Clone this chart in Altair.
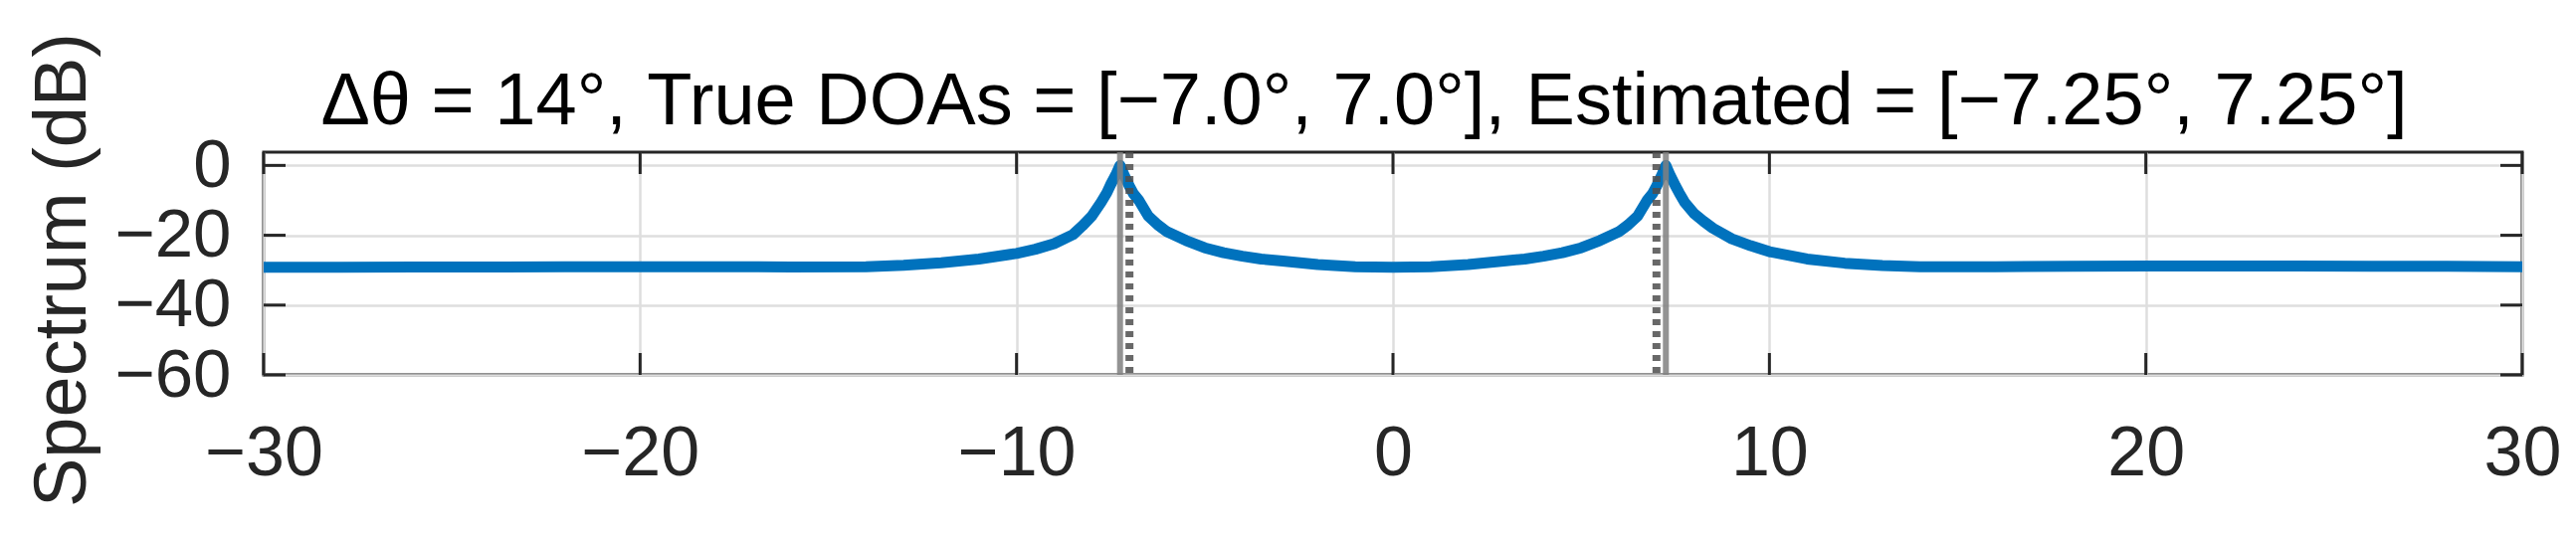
import altair as alt
import pandas as pd

# ---- data ----
angle_deg = [-30, -28, -26, -24, -22, -20, -18, -16, -14, -13, -12, -11, -10, -9.5, -9, -8.5,
             -8.25, -8, -7.75, -7.6, -7.5, -7.35, -7.25, -7.15, -7.0, -6.9, -6.75, -6.5, -6.25,
             -6.0, -5.5, -5.0, -4.5, -4.0, -3.5, -3.0, -2.0, -1.0, 0,
             1, 2, 3, 3.5, 4, 4.5, 5, 5.5, 6, 6.25, 6.5, 6.75, 6.9, 7.0, 7.15, 7.25, 7.35, 7.5,
             7.6, 7.75, 8, 8.25, 8.5, 9, 9.5, 10, 11, 12, 13, 14, 16, 18, 20, 22, 24, 26, 28, 30]
spectrum_db = [-29.2, -29.2, -29.1, -29.1, -29.0, -29.0, -29.0, -29.1, -29.0, -28.6, -27.9,
               -26.8, -25.2, -24.0, -22.4, -19.8, -17.3, -14.5, -10.5, -7.8, -5.5, -2.4, 0.0,
               -2.6, -6.0, -8.0, -10.0, -14.5, -17.0, -19.0, -21.5, -23.6, -25.0, -26.0, -26.8,
               -27.3, -28.4, -29.0, -29.2,
               -29.0, -28.4, -27.3, -26.8, -26.0, -25.0, -23.6, -21.5, -19.0, -17.0, -14.5,
               -10.0, -8.0, -6.0, -2.6, 0.0, -2.5, -5.8, -7.8, -10.6, -13.8, -16.0, -18.0, -21.0,
               -23.0, -24.7, -26.8, -28.0, -28.7, -29.0, -29.0, -28.9, -28.8, -28.8, -28.8,
               -28.9, -28.9, -29.0]
true_doas = [-7.0, 7.0]
est_doas = [-7.25, 7.25]
x_ticks = [-30, -20, -10, 0, 10, 20, 30]
y_ticks = [-60, -40, -20, 0]
title_text = ["Δθ = 14°, True DOAs = [−7.0°, 7.0°], Estimated = [−7.25°, 7.25°]"]
y_title = "Spectrum (dB)"

W, H = 2270, 224
FONT = "Liberation Sans"
INK = "#262626"
TICK = 22

curve_df = pd.DataFrame({"theta": angle_deg, "p": spectrum_db})
true_df = pd.DataFrame({"theta": true_doas})
est_df = pd.DataFrame({"theta": est_doas})
xt_df = pd.DataFrame({"theta": x_ticks})
yt_df = pd.DataFrame({"p": y_ticks})
title_df = pd.DataFrame({"t": title_text})

xs = alt.Scale(domain=[-30, 30], nice=False, zero=False)
ys = alt.Scale(domain=[-60, 3.8], nice=False, zero=False)

x_axis = alt.Axis(values=x_ticks, title=None, grid=True, gridColor="#dedede", gridWidth=2.5,
                  ticks=False, domain=False, labelFont=FONT, labelFontSize=70, labelColor=INK,
                  labelPadding=45, labelFlush=False, labelOverlap=False, format="d")
y_axis = alt.Axis(values=y_ticks, title=y_title, grid=True, gridColor="#dedede", gridWidth=2.5,
                  ticks=False, domain=False, labelFont=FONT, labelFontSize=69, labelColor=INK,
                  labelPadding=33, labelFlush=False, labelOverlap=False, format="d",
                  titleFont=FONT, titleFontSize=74, titleFontWeight="normal", titleColor=INK,
                  titleAngle=270, titleX=-180, titleY=H / 2 + 6, titleAlign="center",
                  titleBaseline="alphabetic")

X = alt.X("theta:Q", scale=xs, axis=x_axis)
Y = alt.Y("p:Q", scale=ys, axis=y_axis)

curve = alt.Chart(curve_df).mark_line(
    color="#0072BD", strokeWidth=11, strokeJoin="round", clip=True
).encode(x=X, y=Y)

est_lines = alt.Chart(est_df).mark_rule(color="#808080", strokeWidth=6, opacity=0.85).encode(
    x=X, y=alt.value(0), y2=alt.value(H)
)
true_lines = alt.Chart(true_df).mark_rule(
    color="#4d4d4d", strokeWidth=8, strokeDash=[6, 6], opacity=0.85
).encode(x=X, y=alt.value(0), y2=alt.value(H))

xt_bottom = alt.Chart(xt_df).mark_rule(color=INK, strokeWidth=3).encode(
    x=X, y=alt.value(H - TICK), y2=alt.value(H)
)
xt_top = alt.Chart(xt_df).mark_rule(color=INK, strokeWidth=3).encode(
    x=X, y=alt.value(0), y2=alt.value(TICK)
)
yt_left = alt.Chart(yt_df).mark_rule(color=INK, strokeWidth=3).encode(
    y=Y, x=alt.value(0), x2=alt.value(TICK)
)
yt_right = alt.Chart(yt_df).mark_rule(color=INK, strokeWidth=3).encode(
    y=Y, x=alt.value(W - TICK), x2=alt.value(W)
)

title_mark = alt.Chart(title_df).mark_text(
    font=FONT, fontSize=74, color="#000000", align="center", baseline="alphabetic"
).encode(text="t:N", x=alt.value(W / 2 - 29), y=alt.value(-28))

chart = alt.layer(
    curve, est_lines, true_lines, xt_bottom, xt_top, yt_left, yt_right, title_mark
).properties(
    width=W, height=H,
    background="white",
    autosize=alt.AutoSizeParams(type="none"),
    padding={"left": 257, "top": 145, "right": 46, "bottom": 155},
).configure_view(stroke=INK, strokeWidth=3)

chart.save("out.html", embed_options={"renderer": "svg", "actions": False})
